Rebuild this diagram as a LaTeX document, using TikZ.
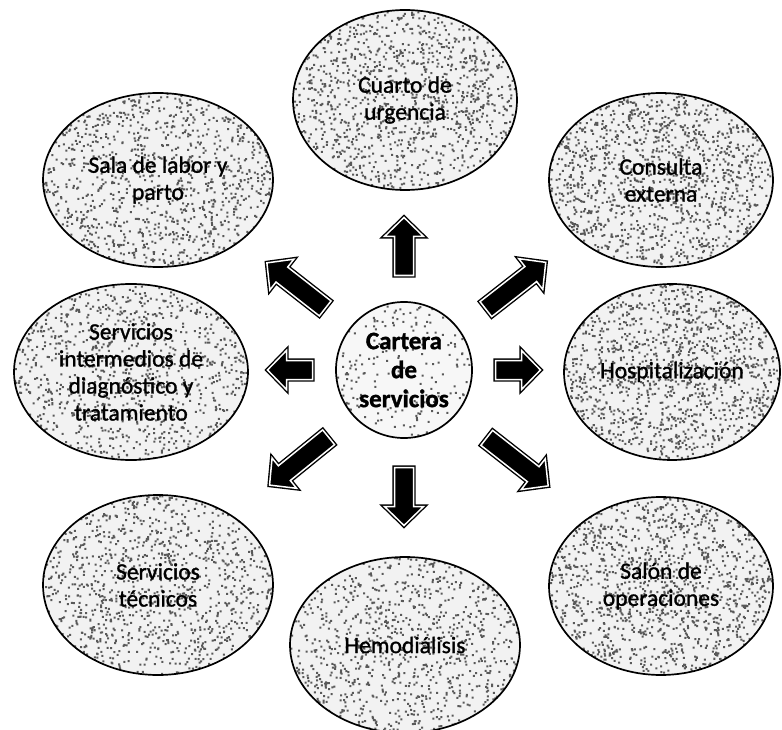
\documentclass[tikz,border=0pt]{standalone}
\usepackage{fontspec}
\setmainfont{Carlito}
\newfontfamily\svcfont[FakeBold=1.2]{Carlito}
\newfontfamily\hubfont[FakeBold=1.4]{Carlito}
\usetikzlibrary{shapes.geometric,calc}
\newcommand\blockarr[3]{% coordinate, angle, length
  \path[barrow, shift={(#1)}, rotate=#2]
    (-#3/2,-9.5) -- (#3/2-19,-9.5) -- (#3/2-19,-19.5) -- (#3/2,0)
    -- (#3/2-19,19.5) -- (#3/2-19,9.5) -- (-#3/2,9.5) -- cycle;}
\newcommand\speckle[5]{% centre, x radius, y radius, count, base shade
  \begin{scope}
    \clip (#1) ellipse [x radius=#2pt, y radius=#3pt];
    \fill[black!#5] (#1) ellipse [x radius=#2pt, y radius=#3pt];
    \fill[black!65, shift={(#1)}]
      foreach \k in {1,...,#4}{ ({rand*#2pt},{rand*#3pt}) rectangle ++(2pt,2pt) };
  \end{scope}}
\begin{document}
\begin{tikzpicture}[x=1pt,y=-1pt,
  svc/.style={ellipse, draw=black, line width=1.7pt,
    align=center, inner sep=0pt, font=\svcfont\fontsize{23.5}{27}\selectfont},
  hub/.style={circle, draw=black, line width=1.7pt,
    align=center, inner sep=0pt, minimum size=136,
    font=\hubfont\bfseries\fontsize{25}{29}\selectfont},
  barrow/.style={draw=black, line width=1.4pt, double=white,
    double distance=1.5pt, fill=black, line join=miter}]
\pgfmathsetseed{4242}
\useasboundingbox (0,0) rectangle (782,730);

% speckled fills
\speckle{404,370}{68}{68}{240}{3}
\speckle{405,100}{112}{90}{1400}{5}
\speckle{158,180}{115}{87}{1300}{5}
\speckle{661,180}{112}{87}{1550}{5}
\speckle{131,372}{117}{88}{1200}{5}
\speckle{672,372}{108}{88}{1550}{5}
\speckle{158,585}{115}{90}{1300}{5}
\speckle{405,645}{115}{88}{1150}{5}
\speckle{661,586}{112}{89}{1550}{5}

\node[hub] (c) at (404,370) {Cartera\\de\\servicios};

\node[svc, minimum width=224, minimum height=180] (urg) at (405,100) {Cuarto de\\urgencia};
\node[svc, minimum width=230, minimum height=174] (sala) at (158,180) {Sala de labor y\\parto};
\node[svc, minimum width=224, minimum height=174] (cons) at (661,180) {Consulta\\externa};
\node[svc, minimum width=234, minimum height=176] (inter) at (131,372) {Servicios\\intermedios de\\diagnóstico y\\tratamiento};
\node[svc, minimum width=216, minimum height=176] (hosp) at (672,372) {Hospitalización};
\node[svc, minimum width=230, minimum height=180] (tec) at (158,585) {Servicios\\técnicos};
\node[svc, minimum width=230, minimum height=176] (hemo) at (405,645) {Hemodiálisis};
\node[svc, minimum width=224, minimum height=178] (salon) at (661,586) {Salón de\\operaciones};

% arrow anchor points
\coordinate (aU)  at ($(c)+(90:123.5pt)$);
\coordinate (aD)  at ($(c)+(-90:126.5pt)$);
\coordinate (aL)  at ($(c)+(180:114pt)$);
\coordinate (aR)  at ($(c)+(0:114pt)$);
\coordinate (aUL) at ($(c)+(142:137pt)$);
\coordinate (aUR) at ($(c)+(37:140pt)$);
\coordinate (aDL) at ($(c)+(-139:139pt)$);
\coordinate (aDR) at ($(c)+(-39:146pt)$);

\blockarr{aU}{90}{58}
\blockarr{aD}{-90}{58}
\blockarr{aL}{180}{45}
\blockarr{aR}{0}{45}
\blockarr{aUL}{142}{74}
\blockarr{aUR}{38}{76}
\blockarr{aDL}{-141}{76}
\blockarr{aDR}{-38}{78}
\end{tikzpicture}
\end{document}
